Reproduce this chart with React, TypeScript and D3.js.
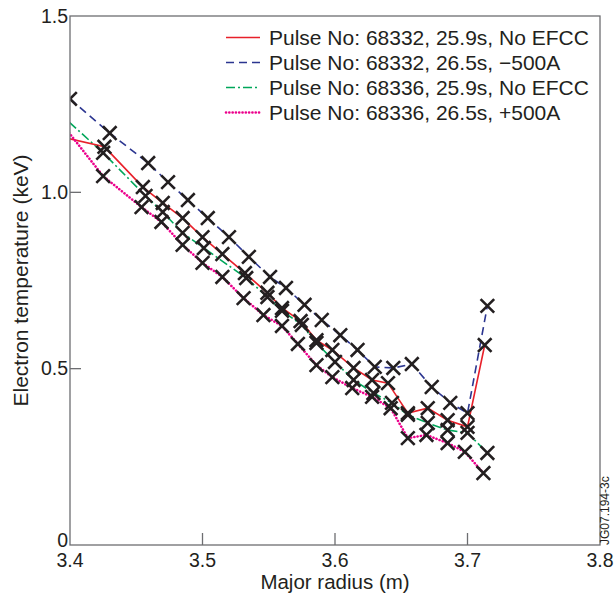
import React from "react";
import * as d3 from "d3";

const blueR = [3.400, 3.430, 3.459, 3.474, 3.489, 3.504, 3.520, 3.535, 3.551, 3.563, 3.577, 3.590, 3.604, 3.617, 3.630, 3.644, 3.658, 3.673, 3.687, 3.700, 3.715];
const blueT = [1.265, 1.168, 1.083, 1.029, 0.978, 0.927, 0.873, 0.817, 0.760, 0.729, 0.681, 0.638, 0.595, 0.553, 0.505, 0.502, 0.513, 0.448, 0.403, 0.374, 0.678];

const redR = [3.390, 3.426, 3.455, 3.470, 3.485, 3.500, 3.515, 3.532, 3.549, 3.560, 3.574, 3.586, 3.598, 3.614, 3.628, 3.640, 3.655, 3.670, 3.685, 3.700, 3.713];
const redT = [1.160, 1.129, 1.015, 0.970, 0.927, 0.873, 0.825, 0.771, 0.715, 0.672, 0.635, 0.581, 0.553, 0.502, 0.468, 0.459, 0.374, 0.388, 0.354, 0.335, 0.567];

const greenR = [3.390, 3.425, 3.457, 3.470, 3.485, 3.501, 3.533, 3.549, 3.560, 3.575, 3.586, 3.600, 3.614, 3.629, 3.643, 3.655, 3.670, 3.685, 3.700, 3.715];
const greenT = [1.231, 1.112, 0.990, 0.944, 0.885, 0.842, 0.757, 0.703, 0.664, 0.624, 0.573, 0.519, 0.468, 0.431, 0.403, 0.369, 0.346, 0.326, 0.318, 0.261];

const magR = [3.390, 3.425, 3.454, 3.469, 3.485, 3.500, 3.515, 3.531, 3.546, 3.560, 3.572, 3.586, 3.598, 3.613, 3.628, 3.642, 3.655, 3.669, 3.685, 3.698, 3.712];
const magT = [1.213, 1.046, 0.958, 0.916, 0.851, 0.800, 0.760, 0.700, 0.652, 0.621, 0.570, 0.510, 0.476, 0.445, 0.420, 0.388, 0.303, 0.312, 0.289, 0.264, 0.204];

const seriesLabels = [
  "Pulse No: 68332, 25.9s, No EFCC",
  "Pulse No: 68332, 26.5s, \u2212500A",
  "Pulse No: 68336, 25.9s, No EFCC",
  "Pulse No: 68336, 26.5s, +500A",
];

const xTicks = [3.4, 3.5, 3.6, 3.7, 3.8];
const xTickLabels = ["3.4", "3.5", "3.6", "3.7", "3.8"];
const yTicks = [0, 0.5, 1.0, 1.5];
const yTickLabels = ["0", "0.5", "1.0", "1.5"];

const FONT = "'Liberation Sans', Arial, Helvetica, sans-serif";

export default function App() {
  const W = 615, H = 599;
  const left = 70, right = 600, top = 16, bottom = 545;
  const x = d3.scaleLinear().domain([3.4, 3.8]).range([left, right]);
  const y = d3.scaleLinear().domain([0, 1.5]).range([bottom, top]);

  const styles = [
    { color: "#e8202a", dash: undefined as string | undefined, width: 1.6, cap: "butt" },
    { color: "#2b3590", dash: "8,5", width: 1.6, cap: "butt" },
    { color: "#00a65a", dash: "9,3,2,3", width: 1.6, cap: "butt" },
    { color: "#ec008c", dash: "0.1,3.2", width: 2.6, cap: "round" },
  ];
  const data = [
    [redR, redT],
    [blueR, blueT],
    [greenR, greenT],
    [magR, magT],
  ];
  const drawOrder = [1, 2, 0, 3];

  const line = d3
    .line<[number, number]>()
    .x((d) => x(d[0]))
    .y((d) => y(d[1]));

  const cross = (cx: number, cy: number, key: string) => {
    const s = 6.8;
    return (
      <path
        key={key}
        d={`M${cx - s},${cy - s}L${cx + s},${cy + s}M${cx - s},${cy + s}L${cx + s},${cy - s}`}
        stroke="#231f20"
        strokeWidth={2.6}
        fill="none"
      />
    );
  };

  return (
    <svg width={W} height={H} style={{ position: "absolute", left: 0, top: 0 }} fontFamily={FONT}>
      <defs>
        <clipPath id="plotclip">
          <rect x={left} y={top} width={right - left} height={bottom - top} />
        </clipPath>
      </defs>
      <rect x={0} y={0} width={W} height={H} fill="#fff" />

      <g clipPath="url(#plotclip)">
        {drawOrder.map((i) => {
          const [rs, ts] = data[i];
          const pts = rs.map((r, k) => [r, ts[k]] as [number, number]);
          const st = styles[i];
          return (
            <path
              key={"l" + i}
              d={line(pts) || ""}
              fill="none"
              stroke={st.color}
              strokeWidth={st.width}
              strokeDasharray={st.dash}
              strokeLinecap={st.cap as any}
            />
          );
        })}
        {data.map(([rs, ts], i) =>
          rs.map((r, k) => cross(x(r), y(ts[k]), `m${i}-${k}`))
        )}
      </g>

      {/* frame */}
      <rect x={left} y={top} width={right - left} height={bottom - top} fill="none" stroke="#6d6e71" strokeWidth={1.3} />
      {xTicks.slice(1, -1).map((t) => (
        <line key={"xt" + t} x1={x(t)} x2={x(t)} y1={bottom} y2={bottom - 12} stroke="#6d6e71" strokeWidth={1.3} />
      ))}
      {yTicks.slice(1, -1).map((t) => (
        <line key={"yt" + t} x1={left} x2={left + 11} y1={y(t)} y2={y(t)} stroke="#6d6e71" strokeWidth={1.3} />
      ))}

      {xTicks.map((t, i) => (
        <text key={"xl" + t} x={x(t)} y={bottom + 22} textAnchor="middle" fontSize={19.5} fill="#231f20">
          {xTickLabels[i]}
        </text>
      ))}
      {yTicks.map((t, i) => (
        <text
          key={"yl" + t}
          x={left - 2}
          y={y(t) + (t === 0 ? 2 : 6.5)}
          textAnchor="end"
          fontSize={19.5}
          fill="#231f20"
        >
          {yTickLabels[i]}
        </text>
      ))}

      <text x={(left + right) / 2} y={589} textAnchor="middle" fontSize={20.5} fill="#231f20">
        Major radius (m)
      </text>
      <text
        transform={`translate(28,${(top + bottom) / 2}) rotate(-90)`}
        textAnchor="middle"
        fontSize={21}
        fill="#231f20"
      >
        Electron temperature (keV)
      </text>

      <text transform={`translate(609,${bottom}) rotate(-90)`} fontSize={12} fill="#231f20">
        JG07.194-3c
      </text>

      {/* legend */}
      {seriesLabels.map((lab, i) => {
        const base = 45 + i * 25;
        const st = styles[i];
        return (
          <g key={"lg" + i}>
            <line
              x1={226}
              x2={260}
              y1={base - 7.5}
              y2={base - 7.5}
              stroke={st.color}
              strokeWidth={st.width}
              strokeDasharray={st.dash}
              strokeLinecap={st.cap as any}
            />
            <text x={269} y={base} fontSize={21} fill="#231f20">
              {lab}
            </text>
          </g>
        );
      })}
    </svg>
  );
}
